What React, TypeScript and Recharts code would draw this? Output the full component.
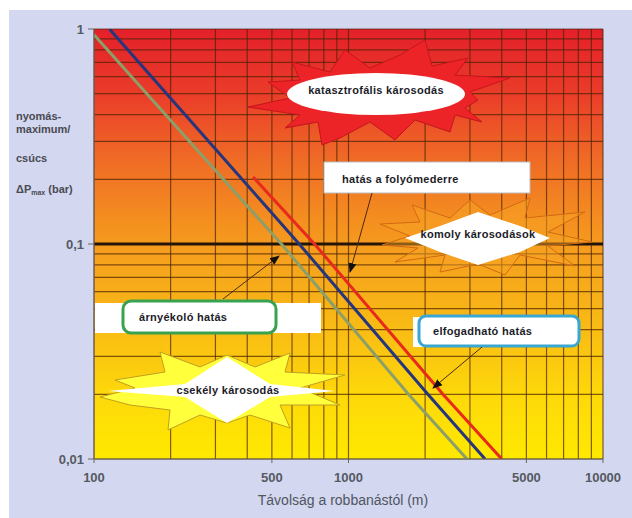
import {
  LineChart,
  Line,
  XAxis,
  YAxis,
  CartesianGrid,
  ReferenceLine,
} from "recharts";

// gridlines / ticks on both log axes
const gridX = [
  100, 200, 300, 400, 500, 600, 700, 800, 900, 1000, 2000, 3000, 4000, 5000,
  6000, 7000, 8000, 9000, 10000,
];
const xLabels = [100, 500, 1000, 5000, 10000];
const gridY = [
  0.01, 0.02, 0.03, 0.04, 0.05, 0.06, 0.07, 0.08, 0.09, 0.1, 0.2, 0.3, 0.4,
  0.5, 0.6, 0.7, 0.8, 0.9, 1,
];
const yLabels = [0.01, 0.1, 1];
const yLabelText = ["0,01", "0,1", "1"];

// distance (m) vs peak overpressure (bar)
const greenDist = [100, 545, 1720, 2920];
const greenP = [0.94, 0.1, 0.02, 0.01];
const blueDist = [115, 640, 2050, 3440];
const blueP = [1, 0.1, 0.02, 0.01];
const redDist = [422, 735, 2350, 4000];
const redP = [0.205, 0.1, 0.02, 0.01];

const toSeries = (dist: number[], p: number[]) =>
  dist.map((d, i) => ({ d, p: p[i] }));

const greenData = toSeries(greenDist, greenP);
const blueData = toSeries(blueDist, blueP);
const redData = toSeries(redDist, redP);

const labelFont = "'Liberation Sans', Arial, sans-serif";

function XTick(props: any) {
  const { x, y, payload } = props;
  if (!xLabels.includes(payload.value)) return <g />;
  return (
    <g>
      <line x1={x} x2={x} y1={y} y2={y + 4} stroke="#666" />
      <text
        x={x}
        y={y + 23}
        textAnchor="middle"
        fontFamily={labelFont}
        fontWeight="bold"
        fontSize={13}
        fill="#555a63"
      >
        {payload.value}
      </text>
    </g>
  );
}

function YTick(props: any) {
  const { x, y, payload } = props;
  const idx = yLabels.findIndex((v) => Math.abs(v - payload.value) < 1e-9);
  if (idx < 0) return <g />;
  return (
    <g>
      <line x1={x - 6} x2={x} y1={y} y2={y} stroke="#666" />
      <text
        x={x - 10}
        y={y + 5}
        textAnchor="end"
        fontFamily={labelFont}
        fontWeight="bold"
        fontSize={13}
        fill="#555a63"
      >
        {yLabelText[idx]}
      </text>
    </g>
  );
}

const pts = (a: number[][]) => a.map((p) => p.join(",")).join(" ");

// decorative burst shapes (pixel coords on the picture)
const redStar = [
  [248, 107], [290, 98], [268, 82], [300, 80], [292, 62], [330, 72], [345, 50],
  [370, 68], [400, 55], [425, 40], [432, 66], [468, 58], [455, 75], [510, 78],
  [470, 92], [478, 100], [465, 108], [482, 122], [455, 115], [450, 132],
  [415, 120], [395, 140], [370, 122], [340, 138], [322, 145], [318, 122],
  [285, 128], [300, 115],
];
const orangeStar = [
  [380, 224], [420, 222], [412, 205], [450, 218], [470, 200], [490, 215],
  [530, 198], [525, 218], [585, 212], [548, 232], [592, 242], [548, 246],
  [575, 266], [520, 255], [505, 275], [478, 264], [440, 272], [445, 255],
  [395, 262], [418, 248], [382, 245], [410, 236],
];
const whiteStar = [
  [405, 238], [440, 226], [478, 212], [520, 226], [550, 238], [520, 252],
  [478, 265], [440, 252],
];
const yellowStar = [
  [100, 397], [135, 388], [115, 380], [165, 372], [160, 352], [200, 367],
  [227, 355], [255, 367], [290, 353], [285, 372], [345, 375], [300, 388],
  [340, 405], [280, 405], [290, 428], [250, 415], [227, 423], [200, 415],
  [168, 430], [170, 410], [130, 405],
];
const whiteDiamond = [
  [108, 391], [185, 384], [227, 357], [270, 384], [335, 391], [270, 397],
  [227, 423], [185, 397],
];

const annText = {
  fontFamily: labelFont,
  fontWeight: "bold" as const,
  fontSize: 11,
  fill: "#1c1c28",
  letterSpacing: 0.3,
};

function Overlay() {
  return (
    <svg
      width={632}
      height={518}
      style={{ position: "absolute", left: 0, top: 0, pointerEvents: "none" }}
    >
      <defs>
        <marker
          id="ah"
          viewBox="0 0 10 10"
          refX="9"
          refY="5"
          markerWidth="10"
          markerHeight="10"
          orient="auto"
        >
          <path d="M0,1 L10,5 L0,9 z" fill="#111" />
        </marker>
      </defs>

      {/* katasztrofális */}
      <polygon points={pts(redStar)} fill="#ec2327" stroke="#c4161c" strokeWidth={1} />
      <ellipse cx={376} cy={94} rx={89} ry={21} fill="#fff" />
      <text x={376} y={94} textAnchor="middle" {...annText}>
        katasztrofális károsodás
      </text>

      {/* hatás a folyómederre */}
      <rect x={324} y={162} width={206} height={31} fill="#fff" stroke="#bbb" />
      <text x={342} y={183} {...annText}>
        hatás a folyómederre
      </text>
      <line x1={372} y1={193} x2={350} y2={272} stroke="#4a2a10" markerEnd="url(#ah)" />

      {/* komoly károsodások */}
      <polygon points={pts(orangeStar)} fill="#f8a424" fillOpacity={0.5} stroke="#d26a14" strokeWidth={1} />
      <polygon points={pts(whiteStar)} fill="#fff" />
      <text x={478} y={238} textAnchor="middle" {...annText}>
        komoly károsodások
      </text>

      {/* árnyékoló hatás */}
      <rect x={95} y={303} width={226} height={30} fill="#fff" />
      <rect x={123} y={301} width={153} height={32} rx={8} fill="#fff" stroke="#3aa24e" strokeWidth={3} />
      <text x={139} y={321} {...annText}>
        árnyékoló hatás
      </text>
      <line x1={223} y1={299} x2={279} y2={256} stroke="#4a2a10" markerEnd="url(#ah)" />

      {/* csekély károsodás */}
      <polygon points={pts(yellowStar)} fill="#ffff3c" stroke="#c0a020" strokeWidth={1} />
      <polygon points={pts(whiteDiamond)} fill="#fff" />
      <text x={228} y={394} textAnchor="middle" {...annText}>
        csekély károsodás
      </text>

      {/* elfogadható hatás */}
      <rect x={413} y={317} width={150} height={30} fill="#fff" />
      <rect x={419} y={316} width={160} height={30} rx={7} fill="#fff" stroke="#3aa6d2" strokeWidth={3} />
      <text x={433} y={335} {...annText}>
        elfogadható hatás
      </text>
      <line x1={482} y1={347} x2={433} y2={388} stroke="#4a2a10" markerEnd="url(#ah)" />

      {/* y axis title */}
      <g fontFamily={labelFont} fontWeight="bold" fontSize={11} fill="#4a4a52">
        <text x={16} y={120}>nyomás-</text>
        <text x={16} y={133}>maximum/</text>
        <text x={16} y={162}>csúcs</text>
        <text x={16} y={193}>
          ΔP<tspan fontSize={7} dy={2}>max</tspan>
          <tspan dy={-2}> (bar)</tspan>
        </text>
      </g>

      {/* x axis title */}
      <text
        x={343}
        y={505}
        textAnchor="middle"
        fontFamily={labelFont}
        fontSize={14}
        fill="#50555f"
      >
        Távolság a robbanástól (m)
      </text>
    </svg>
  );
}

export default function App() {
  return (
    <div
      style={{
        position: "absolute",
        left: 0,
        top: 0,
        width: 632,
        height: 518,
        background: "#fff",
      }}
    >
      <div
        style={{
          position: "absolute",
          left: 9,
          top: 10,
          width: 623,
          height: 508,
          background: "#d3d7ef",
        }}
      />
      <div style={{ position: "absolute", left: 0, top: 0 }}>
        <LineChart
          width={632}
          height={518}
          margin={{ top: 29, right: 29, bottom: 29, left: 34 }}
        >
          <defs>
            <linearGradient id="bgGrad" x1="0" y1="0" x2="0" y2="1">
              <stop offset="0" stopColor="#e4202a" />
              <stop offset="0.15" stopColor="#ea3c29" />
              <stop offset="0.3" stopColor="#ef6a26" />
              <stop offset="0.45" stopColor="#f4901f" />
              <stop offset="0.55" stopColor="#f6a41c" />
              <stop offset="0.7" stopColor="#f9bc14" />
              <stop offset="0.85" stopColor="#fdd80a" />
              <stop offset="1" stopColor="#ffe900" />
            </linearGradient>
          </defs>
          <CartesianGrid
            fill="url(#bgGrad)"
            fillOpacity={1}
            stroke="#4a2206"
            strokeOpacity={0.7}
            strokeWidth={1.2}
          />
          <XAxis
            dataKey="d"
            type="number"
            scale="log"
            domain={[100, 10000]}
            ticks={gridX}
            interval={0}
            allowDataOverflow
            height={30}
            tickSize={0}
            tickMargin={0}
            tick={<XTick />}
            stroke="#6a6a5a"
          />
          <YAxis
            dataKey="p"
            type="number"
            scale="log"
            domain={[0.01, 1]}
            ticks={gridY}
            interval={0}
            allowDataOverflow
            width={60}
            tickSize={0}
            tickMargin={0}
            tick={<YTick />}
            stroke="#7a6a6a"
          />
          <ReferenceLine y={0.1} stroke="#24140a" strokeWidth={3} />
          <Line
            data={greenData}
            dataKey="p"
            stroke="#8c9f68"
            strokeWidth={3}
            dot={false}
            isAnimationActive={false}
          />
          <Line
            data={blueData}
            dataKey="p"
            stroke="#26357c"
            strokeWidth={3}
            dot={false}
            isAnimationActive={false}
          />
          <Line
            data={redData}
            dataKey="p"
            stroke="#e82a1c"
            strokeWidth={3}
            dot={false}
            isAnimationActive={false}
          />
        </LineChart>
      </div>
      <Overlay />
    </div>
  );
}
